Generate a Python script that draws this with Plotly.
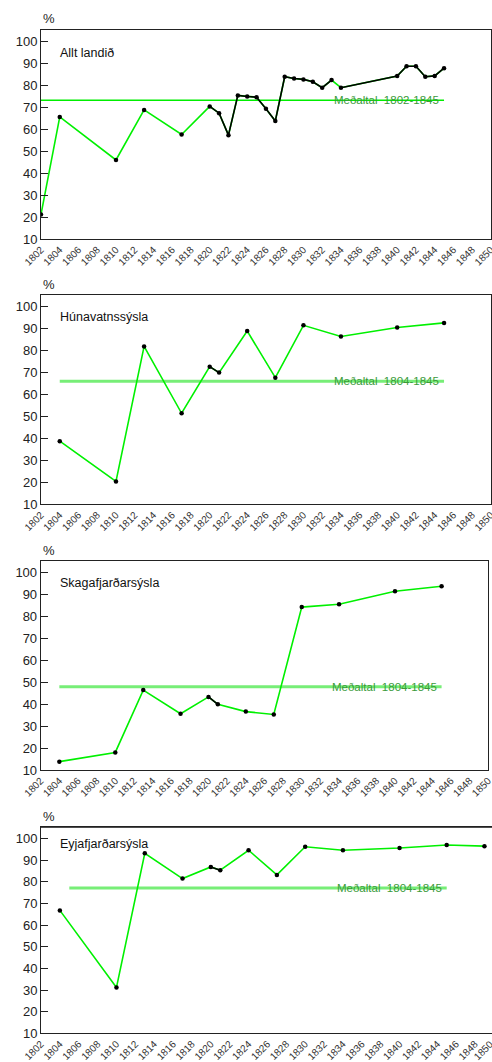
import plotly.graph_objects as go

W, H = 492, 1062

# ---------------- data ----------------
titles = ["Allt landið", "Húnavatnssýsla", "Skagafjarðarsýsla", "Eyjafjarðarsýsla"]

years_1 = [1802, 1804, 1810, 1813, 1817, 1820, 1821, 1822, 1823, 1824, 1825, 1826, 1827,
           1828, 1829, 1830, 1831, 1832, 1833, 1834, 1840, 1841, 1842, 1843, 1844, 1845]
vals_1 = [21.2, 65.6, 46.0, 68.8, 57.6, 70.4, 67.3, 57.3, 75.4, 74.9, 74.6, 69.3, 63.8,
          83.9, 83.1, 82.7, 81.6, 78.9, 82.4, 78.9, 84.2, 88.7, 88.7, 83.9, 84.3, 87.8]

years_2 = [1804, 1810, 1813, 1817, 1820, 1821, 1824, 1827, 1830, 1834, 1840, 1845]
vals_2 = [38.7, 20.4, 81.8, 51.4, 72.6, 69.9, 88.8, 67.6, 91.4, 86.3, 90.4, 92.5]

years_3 = [1804, 1810, 1813, 1817, 1820, 1821, 1824, 1827, 1830, 1834, 1840, 1845]
vals_3 = [13.8, 18.0, 46.4, 35.6, 43.3, 39.9, 36.6, 35.3, 84.2, 85.5, 91.4, 93.7]

years_4 = [1804, 1810, 1813, 1817, 1820, 1821, 1824, 1827, 1830, 1834, 1840, 1845, 1849]
vals_4 = [66.8, 31.2, 93.2, 81.5, 86.9, 85.4, 94.6, 83.2, 96.2, 94.6, 95.6, 97.0, 96.5]

black_runs = [[(1820, 1833), (1834, 1845)], [(1820, 1821)], [(1820, 1821)], [(1820, 1821)]]

mean_values = [73.2, 66.0, 47.9, 77.2]
mean_spans = [(1802, 1845), (1804, 1845), (1804, 1845), (1805, 1845)]
mean_labels = ["Meðaltal  1802-1845", "Meðaltal  1804-1845", "Meðaltal  1804-1845", "Meðaltal  1804-1845"]

x_ticks = list(range(1802, 1851, 2))
y_ticks = list(range(10, 101, 10))

all_years = [years_1, years_2, years_3, years_4]
all_vals = [vals_1, vals_2, vals_3, vals_4]

# ---------------- layout geometry (pixels) ----------------
panels = [
    dict(x0=41, x1=491, top=30, bottom=239, xmax=1850.01, title_dy=23, mean_w=1.5, mean_c="#00ee00", right=True),
    dict(x0=41, x1=491, top=295, bottom=504.3, xmax=1850.01, title_dy=22, mean_w=3, mean_c="#77ee77", right=True),
    dict(x0=40.7, x1=488.3, top=561, bottom=770, xmax=1850.01, title_dy=22, mean_w=3, mean_c="#77ee77", right=True),
    dict(x0=41, x1=492, top=827.3, bottom=1033.3, xmax=1849.8, title_dy=17, mean_w=3, mean_c="#77ee77", right=False),
]

FONT = "Liberation Sans, Arial, sans-serif"
GREEN = "#00f000"

fig = go.Figure()
annotations = []

for i, p in enumerate(panels):
    n = i + 1
    xa = "x" if n == 1 else f"x{n}"
    ya = "y" if n == 1 else f"y{n}"
    yrs, vls = all_years[i], all_vals[i]

    # mean line
    fig.add_trace(go.Scatter(x=list(mean_spans[i]), y=[mean_values[i]] * 2, mode="lines",
                             line=dict(color=p["mean_c"], width=p["mean_w"]),
                             xaxis=xa, yaxis=ya, showlegend=False, hoverinfo="skip"))
    # green line through all points
    fig.add_trace(go.Scatter(x=yrs, y=vls, mode="lines", line=dict(color=GREEN, width=1.6),
                             xaxis=xa, yaxis=ya, showlegend=False))
    # black overlay runs
    bx, by = [], []
    for (a, b) in black_runs[i]:
        for yv, vv in zip(yrs, vls):
            if a <= yv <= b:
                bx.append(yv)
                by.append(vv)
        bx.append(None)
        by.append(None)
    fig.add_trace(go.Scatter(x=bx, y=by, mode="lines", line=dict(color="black", width=1.6),
                             xaxis=xa, yaxis=ya, showlegend=False, connectgaps=False))
    # markers
    fig.add_trace(go.Scatter(x=yrs, y=vls, mode="markers", marker=dict(color="black", size=4.5),
                             xaxis=xa, yaxis=ya, showlegend=False))

    dom_x = [p["x0"] / W, p["x1"] / W]
    dom_y = [1 - p["bottom"] / H, 1 - p["top"] / H]
    fig.update_layout(**{
        ("xaxis" if n == 1 else f"xaxis{n}"): dict(
            domain=dom_x, range=[1802, p["xmax"]], anchor=ya, tickmode="array", tickvals=x_ticks,
            ticktext=[str(t) for t in x_ticks], tickangle=-45, ticks="", showgrid=False,
            zeroline=False, showline=True, linecolor="#222", linewidth=1, mirror=True,
            automargin=False, ticklabeloverflow="allow",
            tickfont=dict(family=FONT, size=10, color="#333")),
        ("yaxis" if n == 1 else f"yaxis{n}"): dict(
            domain=dom_y, range=[10, 105.2], anchor=xa, tickmode="array", tickvals=y_ticks,
            ticks="inside", ticklen=7, tickcolor="#222", showgrid=False, zeroline=False,
            showline=True, linecolor="#222", linewidth=1, mirror=p["right"], automargin=False,
            tickfont=dict(family=FONT, size=13, color="#222")),
    })
    if not p["right"]:
        # top border only (no right border visible)
        fig.add_shape(type="line", xref="paper", yref="paper", x0=dom_x[0], x1=1,
                      y0=dom_y[1], y1=dom_y[1], line=dict(color="#222", width=1))

    # "%" label
    annotations.append(dict(x=p["x0"] / W, y=1 - (p["top"] - 11) / H, xref="paper", yref="paper",
                            text="%", showarrow=False, xanchor="left", yanchor="middle",
                            font=dict(family=FONT, size=13, color="#222")))
    # panel title
    annotations.append(dict(x=58 / W, y=1 - (p["top"] + p["title_dy"]) / H, xref="paper", yref="paper",
                            text=titles[i], showarrow=False, xanchor="left", yanchor="middle",
                            font=dict(family=FONT, size=12.5, color="#111")))
    # mean label
    annotations.append(dict(x=1844.7, y=mean_values[i], xref=xa, yref=ya, text=mean_labels[i],
                            showarrow=False, xanchor="right", yanchor="middle",
                            font=dict(family=FONT, size=11.5, color="#3a9a3a")))

# clipped 1850 tick label in last panel
p4 = panels[3]
annotations.append(dict(x=498 / W, y=1 - (p4["bottom"] + 2) / H, xref="paper", yref="paper",
                        text="1850", showarrow=False, xanchor="right", yanchor="top", textangle=-45,
                        font=dict(family=FONT, size=10, color="#333")))

fig.update_layout(width=W, height=H, margin=dict(l=0, r=0, t=0, b=0),
                  paper_bgcolor="white", plot_bgcolor="white", annotations=annotations,
                  showlegend=False)

fig.write_html("out.html", config={"displayModeBar": False},
               post_script="document.body.style.margin='0';document.body.style.padding='0';")
